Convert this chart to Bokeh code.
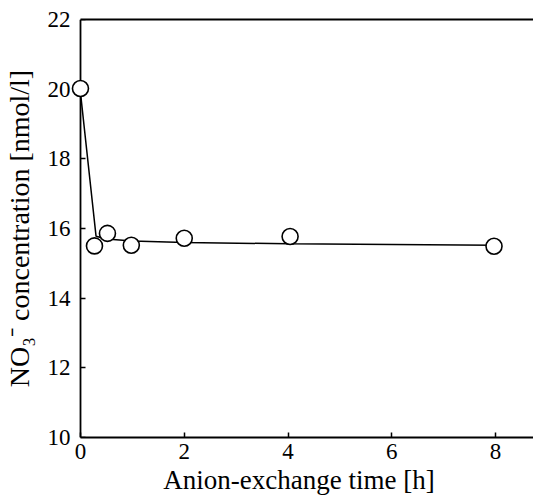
from bokeh.plotting import figure
from bokeh.models import FixedTicker, LinearAxis, Range1d
from bokeh.embed import file_html
from bokeh.resources import INLINE

# Measured data (points)
time_h = [0, 0.27, 0.52, 0.98, 2.0, 4.04, 7.97]
no3 = [20.02, 15.5, 15.86, 15.52, 15.72, 15.77, 15.49]

# Fitted curve
fit_time = [0, 0.3, 0.5, 1.0, 2.0, 4.0, 8.0]
fit_no3 = [19.9, 15.78, 15.7, 15.64, 15.6, 15.56, 15.52]

x_ticks = [0, 2, 4, 6, 8]
y_ticks = [10, 12, 14, 16, 18, 20, 22]

FONT = "Liberation Serif"
X_END = 8.731
X_START = -0.3077   # small room left of t=0 so the first marker is not clipped

p = figure(width=533, height=497, output_backend="svg", toolbar_location=None,
           x_range=Range1d(X_START, X_END), y_range=Range1d(10, 22),
           min_border_left=63, min_border_right=0, min_border_top=19, min_border_bottom=54)
p.outline_line_color = None
p.xgrid.visible = False
p.ygrid.visible = False
p.background_fill_color = "white"

p.line(fit_time, fit_no3, line_color="black", line_width=1.5)
pts = p.scatter(time_h, no3, size=16, marker="circle", fill_color="white",
                line_color="black", line_width=1.6)
pts.level = "overlay"

# bottom axis
xa = p.xaxis[0]
xa.ticker = FixedTicker(ticks=x_ticks)
xa.bounds = (0, X_END)
xa.axis_line_width = 1.8
xa.axis_line_color = "black"
xa.major_tick_in = 5
xa.major_tick_out = 0
xa.major_tick_line_width = 1.5
xa.minor_tick_line_color = None
xa.major_label_text_font = FONT
xa.major_label_text_font_size = "23px"
xa.major_label_text_color = "black"
xa.major_label_standoff = 6
xa.axis_label = "Anion-exchange time [h]"
xa.axis_label_text_font = FONT
xa.axis_label_text_font_size = "27px"
xa.axis_label_text_font_style = "normal"
xa.axis_label_text_color = "black"
xa.axis_label_standoff = 3

# left axis: labels only (positioned at frame edge, shifted to the t=0 line)
ya = p.yaxis[0]
ya.ticker = FixedTicker(ticks=y_ticks)
ya.axis_line_color = None
ya.major_tick_line_color = None
ya.minor_tick_line_color = None
ya.major_tick_in = 0
ya.major_tick_out = 0
ya.major_label_text_font = FONT
ya.major_label_text_font_size = "23px"
ya.major_label_text_color = "black"
ya.major_label_standoff = -6
ya.axis_label = "NO\u2083\u207b concentration [nmol/l]"
ya.axis_label_text_font = FONT
ya.axis_label_text_font_size = "28px"
ya.axis_label_text_font_style = "normal"
ya.axis_label_text_color = "black"
ya.axis_label_standoff = 10

# left axis line + ticks drawn at t = 0 (no labels)
yline = LinearAxis(ticker=FixedTicker(ticks=y_ticks), fixed_location=0,
                   major_label_text_font_size="0px", major_label_text_color=None,
                   major_label_standoff=0,
                   axis_line_width=1.8, axis_line_color="black",
                   major_tick_in=5, major_tick_out=0, major_tick_line_width=1.5,
                   minor_tick_line_color=None)
p.add_layout(yline, "left")

top = LinearAxis(ticker=FixedTicker(ticks=[]), major_label_text_font_size="0px",
                 major_label_text_color=None, bounds=(0, X_END),
                 axis_line_width=1.8, axis_line_color="black",
                 major_tick_line_color=None, minor_tick_line_color=None)
p.add_layout(top, "above")

open("out.html", "w").write(file_html(p, INLINE))
